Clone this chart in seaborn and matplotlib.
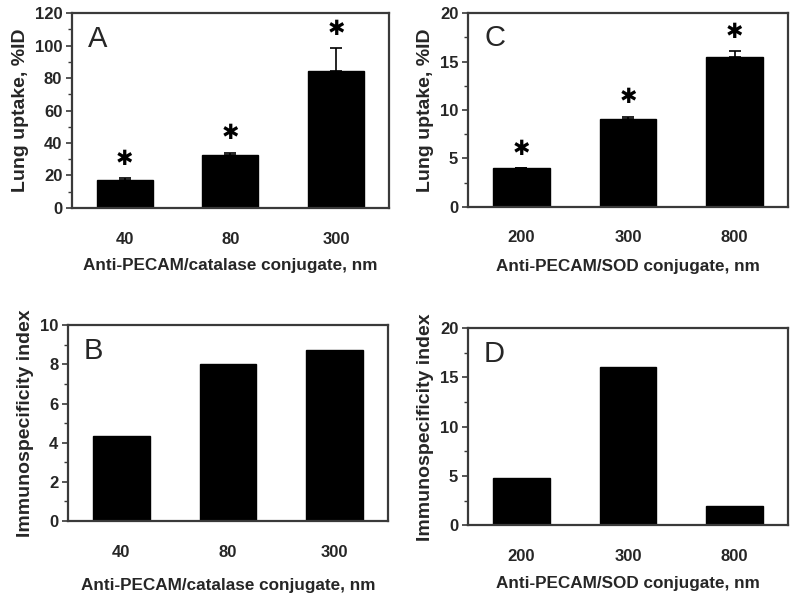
import numpy as np
import pandas as pd
import seaborn as sns
import matplotlib.pyplot as plt
from matplotlib.ticker import MultipleLocator

sns.set_theme(style="white")
plt.rcParams['font.family'] = ['Liberation Sans', 'DejaVu Sans']

# panel A: catalase conjugates, lung uptake
cat_sizes = ["40", "80", "300"]
cat_uptake = [17.5, 32.5, 84.5]
cat_uptake_err = [0.8, 1.5, 14.0]
# panel B: catalase immunospecificity
cat_isi = [4.35, 8.0, 8.75]
# panel C: SOD conjugates, lung uptake
sod_sizes = ["200", "300", "800"]
sod_uptake = [4.0, 9.1, 15.5]
sod_uptake_err = [0.0, 0.2, 0.6]
# panel D: SOD immunospecificity
sod_isi = [4.75, 16.1, 2.0]

fig = plt.figure(figsize=(8, 6.01), dpi=100)
spine_col = "#3a3a3a"


def panel(rect, labels, values, ymax, major, minor, ylabel, xlabel, letter,
          err=None, stars=False, xpad=7):
    ax = fig.add_axes(rect)
    df = pd.DataFrame({"size": labels, "val": values})
    sns.barplot(data=df, x="size", y="val", color="black", width=0.53,
                saturation=1, edgecolor="black", errorbar=None, ax=ax)
    if err is not None:
        ax.errorbar(range(len(values)), values, yerr=[np.zeros(len(err)), err],
                    fmt="none", ecolor="black", elinewidth=1.2, capsize=4,
                    capthick=1.2)
    if stars:
        e = err if err is not None else np.zeros(len(values))
        for i, (v, d) in enumerate(zip(values, e)):
            ax.text(i, v + d + 0.1 * ymax, "\u2731", ha="center", va="center",
                    fontsize=15, family="DejaVu Sans", color="black")
    ax.set_xlim(-0.5, 2.5)
    ax.set_ylim(0, ymax)
    ax.yaxis.set_major_locator(MultipleLocator(major))
    ax.yaxis.set_minor_locator(MultipleLocator(minor))
    ax.tick_params(axis="y", which="major", left=True, direction="out",
                   length=4, width=1.2, color=spine_col, labelsize=12, pad=3)
    ax.tick_params(axis="y", which="minor", left=True, direction="out",
                   length=3, width=1, color=spine_col)
    ax.tick_params(axis="x", bottom=False, labelsize=12, pad=11)
    for lab in ax.get_xticklabels() + ax.get_yticklabels():
        lab.set_fontweight("bold")
    for s in ax.spines.values():
        s.set_color(spine_col)
        s.set_linewidth(1.6)
    ax.set_ylabel(ylabel, fontsize=14, fontweight="bold", labelpad=4)
    ax.set_xlabel(xlabel, fontsize=12.3, fontweight="bold", labelpad=xpad)
    ax.text(0.05, 0.87, letter, transform=ax.transAxes, ha="left",
            va="center", fontsize=21)
    return ax


panel([0.09, 0.654, 0.396, 0.324], cat_sizes, cat_uptake, 120, 20, 10,
      "Lung uptake, %ID", "Anti-PECAM/catalase conjugate, nm", "A",
      err=cat_uptake_err, stars=True, xpad=8)
panel([0.085, 0.133, 0.40, 0.326], cat_sizes, cat_isi, 10, 2, 1,
      "Immunospecificity index", "Anti-PECAM/catalase conjugate, nm", "B",
      xpad=13)
panel([0.585, 0.656, 0.40, 0.322], sod_sizes, sod_uptake, 20, 5, 2.5,
      "Lung uptake, %ID", "Anti-PECAM/SOD conjugate, nm", "C",
      err=sod_uptake_err, stars=True, xpad=10)
panel([0.585, 0.126, 0.40, 0.328], sod_sizes, sod_isi, 20, 5, 2.5,
      "Immunospecificity index", "Anti-PECAM/SOD conjugate, nm", "D",
      xpad=9)

fig.savefig("out.png", dpi=100)
